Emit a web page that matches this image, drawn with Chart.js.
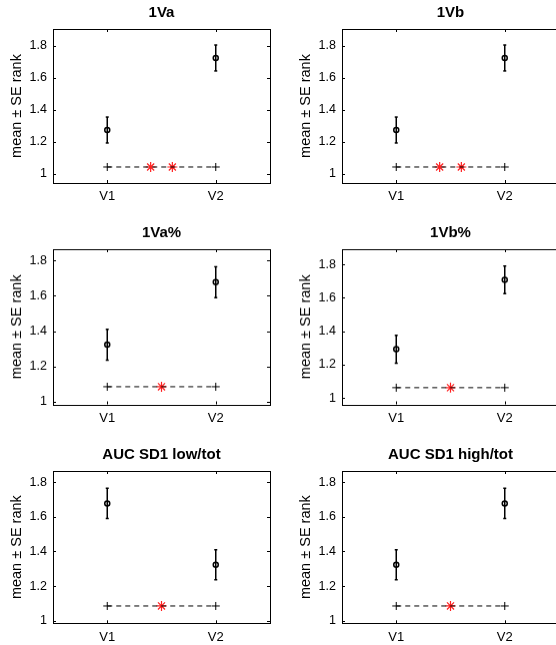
<!DOCTYPE html>
<html>
<head>
<meta charset="utf-8">
<script src="https://cdn.jsdelivr.net/npm/chart.js@4.4.0/dist/chart.umd.min.js"></script>
<style>
  html, body { margin: 0; padding: 0; background: #fff; width: 556px; height: 645px; overflow: hidden; }
  .cell { position: absolute; }
</style>
</head>
<body>
<div class="cell" id="c0"><canvas id="p0"></canvas></div>
<div class="cell" id="c1"><canvas id="p1"></canvas></div>
<div class="cell" id="c2"><canvas id="p2"></canvas></div>
<div class="cell" id="c3"><canvas id="p3"></canvas></div>
<div class="cell" id="c4"><canvas id="p4"></canvas></div>
<div class="cell" id="c5"><canvas id="p5"></canvas></div>
<script>
// data
const titles = ['1Va', '1Vb', '1Va%', '1Vb%', 'AUC SD1 low/tot', 'AUC SD1 high/tot']
const categories = ['V1', 'V2']
const means = [
  [1.275, 1.725],
  [1.275, 1.725],
  [1.323, 1.677],
  [1.292, 1.708],
  [1.677, 1.323],
  [1.323, 1.677]
]
const errors = [
  [0.081, 0.081],
  [0.081, 0.081],
  [0.087, 0.087],
  [0.083, 0.083],
  [0.087, 0.087],
  [0.087, 0.087]
]
// level of the dashed comparison line and where the red stars sit
const sigLevel = [1.044, 1.044, 1.085, 1.062, 1.085, 1.085]
const starX = [[1.4, 1.6], [1.4, 1.6], [1.5], [1.5], [1.5], [1.5]]
const yTicks = [1, 1.2, 1.4, 1.6, 1.8]

// layout of the 3x2 grid
const colLeft = [0, 289]
const rowTop = [0, 220, 442]
const plotBottom = [183, 403.5, 623.3]
const xAxisH = 24
const cellW = 287
const plotRight = 270
const FONT = 'Liberation Sans, Arial, Helvetica, sans-serif'

const frame = {
  id: 'frame',
  afterDraw(chart) {
    const { ctx, chartArea: a, scales } = chart
    ctx.save()
    ctx.strokeStyle = '#000'
    ctx.lineWidth = 1
    ctx.strokeRect(Math.round(a.left) + 0.5, Math.round(a.top) + 0.5, Math.round(a.right - a.left), Math.round(a.bottom - a.top))
    ctx.beginPath()
    yTicks.forEach(v => {
      const y = Math.round(scales.y.getPixelForValue(v)) + 0.5
      ctx.moveTo(a.left, y); ctx.lineTo(a.left + 3, y)
      ctx.moveTo(a.right, y); ctx.lineTo(a.right - 3, y)
    })
    categories.forEach((c, i) => {
      const x = Math.round(scales.x.getPixelForValue(i + 1)) + 0.5
      ctx.moveTo(x, a.bottom); ctx.lineTo(x, a.bottom - 3)
      ctx.moveTo(x, a.top); ctx.lineTo(x, a.top + 3)
    })
    ctx.stroke()
    ctx.restore()
  }
}

const makePlot = (k) => {
  const row = Math.floor(k / 2)
  const col = k % 2
  const h = plotBottom[row] - rowTop[row] + xAxisH
  const cell = document.getElementById('c' + k)
  cell.style.left = colLeft[col] + 'px'
  cell.style.top = rowTop[row] + 'px'
  cell.style.width = cellW + 'px'
  cell.style.height = h + 'px'

  const m = means[k]
  const e = errors[k]
  const L = sigLevel[k]
  const yMin = L - 0.1
  const yMax = Math.max(...m.map((v, i) => v + e[i])) + 0.1

  const datasets = []
  m.forEach((v, i) => {
    datasets.push({
      data: [{ x: i + 1, y: v - e[i] }, { x: i + 1, y: v + e[i] }],
      showLine: true,
      borderColor: '#000',
      borderWidth: 1.5,
      pointStyle: 'line',
      pointRadius: 1.5,
      pointBorderWidth: 1.5,
      pointBorderColor: '#000'
    })
  })
  datasets.push({
    data: m.map((v, i) => ({ x: i + 1, y: v })),
    pointStyle: 'circle',
    pointRadius: 2.5,
    pointBorderWidth: 1.5,
    pointBorderColor: '#000',
    pointBackgroundColor: '#fff'
  })
  datasets.push({
    data: [{ x: 1, y: L }, { x: 2, y: L }],
    showLine: true,
    borderColor: '#000',
    borderWidth: 1,
    borderDash: [5, 4],
    pointStyle: 'cross',
    pointRadius: 4,
    pointBorderWidth: 1,
    pointBorderColor: '#000'
  })
  datasets.push({
    data: starX[k].map(x => ({ x: x, y: L })),
    pointStyle: 'star',
    pointRadius: 5,
    pointBorderWidth: 1.2,
    pointBorderColor: '#ff2020'
  })

  new Chart(document.getElementById('p' + k), {
    type: 'scatter',
    data: { datasets },
    options: {
      responsive: true,
      maintainAspectRatio: false,
      animation: false,
      events: [],
      layout: { padding: { left: 0, right: cellW - plotRight, top: 0, bottom: 0 } },
      plugins: {
        legend: { display: false },
        tooltip: { enabled: false },
        title: {
          display: true,
          text: titles[k],
          fullSize: false,
          color: '#000',
          font: { family: FONT, size: 15, weight: 'bold' },
          padding: { top: 4, bottom: 7 }
        }
      },
      scales: {
        x: {
          type: 'linear',
          min: 0.5,
          max: 2.5,
          grid: { display: false, drawTicks: false },
          border: { display: false },
          afterBuildTicks: (s) => { s.ticks = categories.map((c, i) => ({ value: i + 1 })) },
          afterFit: (s) => { s.height = xAxisH },
          ticks: {
            padding: 6,
            color: '#000',
            font: { family: FONT, size: 13 },
            callback: (v) => categories[v - 1]
          }
        },
        y: {
          min: yMin,
          max: yMax,
          grid: { display: false, drawTicks: false },
          border: { display: false },
          afterBuildTicks: (s) => { s.ticks = yTicks.map(v => ({ value: v })) },
          afterFit: (s) => { s.width = 53 },
          ticks: {
            padding: 6,
            color: '#000',
            font: { family: FONT, size: 12.5 },
            callback: (v) => String(+v.toFixed(1))
          },
          title: {
            display: true,
            text: 'mean ± SE rank',
            color: '#000',
            font: { family: FONT, size: 14.5 },
            padding: { top: 8.5, bottom: 0 }
          }
        }
      }
    },
    plugins: [frame]
  })
}

for (let k = 0; k < 6; k++) makePlot(k)
</script>
</body>
</html>
